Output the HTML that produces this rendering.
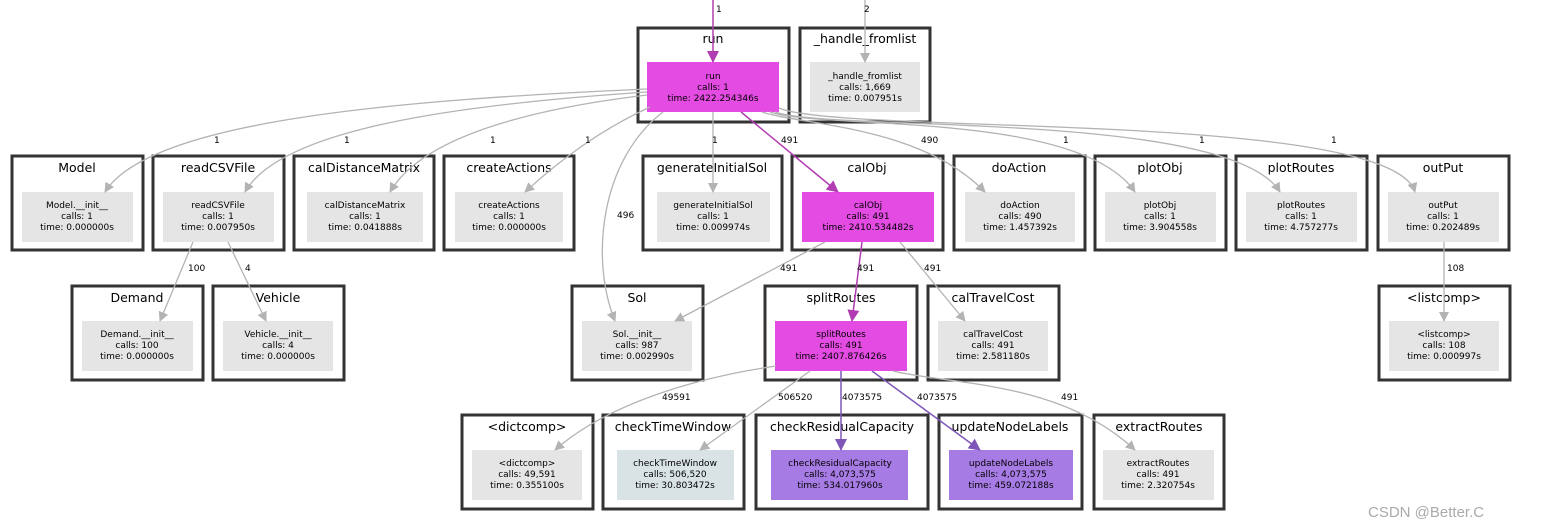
<!DOCTYPE html>
<html><head><meta charset="utf-8"><style>
body{margin:0;background:#fff}
svg{display:block}
.c{fill:#fff;stroke:#333;stroke-width:3}
.t{font-family:"DejaVu Sans","Liberation Sans",sans-serif;font-size:12.5px;fill:#000;text-anchor:middle}
.n{font-family:"DejaVu Sans","Liberation Sans",sans-serif;font-size:9px;fill:#000;text-anchor:middle}
.l{font-family:"DejaVu Sans","Liberation Sans",sans-serif;font-size:9px;fill:#000}
.g{fill:none;stroke:#b3b3b3;stroke-width:1.3}
.m{fill:none;stroke:#b23cb2;stroke-width:1.5}
.p{fill:none;stroke:#7f56b8;stroke-width:1.5}
</style></head><body>
<svg width="1541" height="527" viewBox="0 0 1541 527" xmlns="http://www.w3.org/2000/svg">
<defs>
<marker id="ag" markerWidth="10" markerHeight="10" refX="9" refY="5" orient="auto" markerUnits="userSpaceOnUse"><path d="M0,0 L10,5 L0,10z" fill="#b3b3b3"/></marker>
<marker id="am" markerWidth="12" markerHeight="12" refX="11" refY="6" orient="auto" markerUnits="userSpaceOnUse"><path d="M0,0 L12,6 L0,12z" fill="#b23cb2"/></marker>
<marker id="ap" markerWidth="12" markerHeight="12" refX="11" refY="6" orient="auto" markerUnits="userSpaceOnUse"><path d="M0,0 L12,6 L0,12z" fill="#7f56b8"/></marker>
</defs>

<!-- clusters -->
<g>
<rect class="c" x="638" y="28" width="151" height="94"/><text class="t" x="713" y="43">run</text>
<rect class="c" x="800" y="28" width="130" height="94"/><text class="t" x="865" y="43">_handle_fromlist</text>

<rect class="c" x="12" y="156" width="131" height="94"/><text class="t" x="77" y="172">Model</text>
<rect class="c" x="153" y="156" width="131" height="94"/><text class="t" x="218" y="172">readCSVFile</text>
<rect class="c" x="294" y="156" width="140" height="94"/><text class="t" x="364" y="172">calDistanceMatrix</text>
<rect class="c" x="444" y="156" width="130" height="94"/><text class="t" x="509" y="172">createActions</text>
<rect class="c" x="643" y="156" width="139" height="94"/><text class="t" x="712" y="172">generateInitialSol</text>
<rect class="c" x="792" y="156" width="151" height="94"/><text class="t" x="867" y="172">calObj</text>
<rect class="c" x="954" y="156" width="131" height="94"/><text class="t" x="1019" y="172">doAction</text>
<rect class="c" x="1095" y="156" width="131" height="94"/><text class="t" x="1160" y="172">plotObj</text>
<rect class="c" x="1236" y="156" width="131" height="94"/><text class="t" x="1301" y="172">plotRoutes</text>
<rect class="c" x="1378" y="156" width="131" height="94"/><text class="t" x="1443" y="172">outPut</text>

<rect class="c" x="72" y="286" width="131" height="94"/><text class="t" x="137" y="302">Demand</text>
<rect class="c" x="213" y="286" width="131" height="94"/><text class="t" x="278" y="302">Vehicle</text>
<rect class="c" x="572" y="286" width="131" height="94"/><text class="t" x="637" y="302">Sol</text>
<rect class="c" x="765" y="286" width="152" height="94"/><text class="t" x="841" y="302">splitRoutes</text>
<rect class="c" x="928" y="286" width="131" height="94"/><text class="t" x="993" y="302">calTravelCost</text>
<rect class="c" x="1379" y="286" width="131" height="94"/><text class="t" x="1444" y="302">&lt;listcomp&gt;</text>

<rect class="c" x="462" y="415" width="131" height="94"/><text class="t" x="527" y="431">&lt;dictcomp&gt;</text>
<rect class="c" x="603" y="415" width="141" height="94"/><text class="t" x="673" y="431">checkTimeWindow</text>
<rect class="c" x="756" y="415" width="172" height="94"/><text class="t" x="842" y="431">checkResidualCapacity</text>
<rect class="c" x="939" y="415" width="143" height="94"/><text class="t" x="1010" y="431">updateNodeLabels</text>
<rect class="c" x="1094" y="415" width="130" height="94"/><text class="t" x="1159" y="431">extractRoutes</text>
</g>

<!-- nodes -->
<g>
<rect x="647" y="62" width="132" height="50" fill="#e34be3"/><text class="n" x="713" y="79">run</text><text class="n" x="713" y="90">calls: 1</text><text class="n" x="713" y="101">time: 2422.254346s</text>
<rect x="810" y="62" width="110" height="50" fill="#e5e5e5"/><text class="n" x="865" y="79">_handle_fromlist</text><text class="n" x="865" y="90">calls: 1,669</text><text class="n" x="865" y="101">time: 0.007951s</text>

<rect x="22" y="192" width="111" height="50" fill="#e5e5e5"/><text class="n" x="77" y="208">Model.__init__</text><text class="n" x="77" y="219">calls: 1</text><text class="n" x="77" y="230">time: 0.000000s</text>
<rect x="163" y="192" width="111" height="50" fill="#e5e5e5"/><text class="n" x="218" y="208">readCSVFile</text><text class="n" x="218" y="219">calls: 1</text><text class="n" x="218" y="230">time: 0.007950s</text>
<rect x="307" y="192" width="116" height="50" fill="#e5e5e5"/><text class="n" x="365" y="208">calDistanceMatrix</text><text class="n" x="365" y="219">calls: 1</text><text class="n" x="365" y="230">time: 0.041888s</text>
<rect x="455" y="192" width="108" height="50" fill="#e5e5e5"/><text class="n" x="509" y="208">createActions</text><text class="n" x="509" y="219">calls: 1</text><text class="n" x="509" y="230">time: 0.000000s</text>
<rect x="657" y="192" width="113" height="50" fill="#e5e5e5"/><text class="n" x="713" y="208">generateInitialSol</text><text class="n" x="713" y="219">calls: 1</text><text class="n" x="713" y="230">time: 0.009974s</text>
<rect x="802" y="192" width="132" height="50" fill="#e34be3"/><text class="n" x="868" y="208">calObj</text><text class="n" x="868" y="219">calls: 491</text><text class="n" x="868" y="230">time: 2410.534482s</text>
<rect x="965" y="192" width="110" height="50" fill="#e5e5e5"/><text class="n" x="1020" y="208">doAction</text><text class="n" x="1020" y="219">calls: 490</text><text class="n" x="1020" y="230">time: 1.457392s</text>
<rect x="1105" y="192" width="111" height="50" fill="#e5e5e5"/><text class="n" x="1160" y="208">plotObj</text><text class="n" x="1160" y="219">calls: 1</text><text class="n" x="1160" y="230">time: 3.904558s</text>
<rect x="1246" y="192" width="111" height="50" fill="#e5e5e5"/><text class="n" x="1301" y="208">plotRoutes</text><text class="n" x="1301" y="219">calls: 1</text><text class="n" x="1301" y="230">time: 4.757277s</text>
<rect x="1388" y="192" width="111" height="50" fill="#e5e5e5"/><text class="n" x="1443" y="208">outPut</text><text class="n" x="1443" y="219">calls: 1</text><text class="n" x="1443" y="230">time: 0.202489s</text>

<rect x="82" y="321" width="111" height="50" fill="#e5e5e5"/><text class="n" x="137" y="337">Demand.__init__</text><text class="n" x="137" y="348">calls: 100</text><text class="n" x="137" y="359">time: 0.000000s</text>
<rect x="223" y="321" width="110" height="50" fill="#e5e5e5"/><text class="n" x="278" y="337">Vehicle.__init__</text><text class="n" x="278" y="348">calls: 4</text><text class="n" x="278" y="359">time: 0.000000s</text>
<rect x="582" y="321" width="110" height="50" fill="#e5e5e5"/><text class="n" x="637" y="337">Sol.__init__</text><text class="n" x="637" y="348">calls: 987</text><text class="n" x="637" y="359">time: 0.002990s</text>
<rect x="775" y="321" width="132" height="50" fill="#e34be3"/><text class="n" x="841" y="337">splitRoutes</text><text class="n" x="841" y="348">calls: 491</text><text class="n" x="841" y="359">time: 2407.876426s</text>
<rect x="938" y="321" width="110" height="50" fill="#e5e5e5"/><text class="n" x="993" y="337">calTravelCost</text><text class="n" x="993" y="348">calls: 491</text><text class="n" x="993" y="359">time: 2.581180s</text>
<rect x="1389" y="321" width="110" height="50" fill="#e5e5e5"/><text class="n" x="1444" y="337">&lt;listcomp&gt;</text><text class="n" x="1444" y="348">calls: 108</text><text class="n" x="1444" y="359">time: 0.000997s</text>

<rect x="472" y="450" width="110" height="50" fill="#e5e5e5"/><text class="n" x="527" y="466">&lt;dictcomp&gt;</text><text class="n" x="527" y="477">calls: 49,591</text><text class="n" x="527" y="488">time: 0.355100s</text>
<rect x="617" y="450" width="117" height="50" fill="#d9e3e6"/><text class="n" x="675" y="466">checkTimeWindow</text><text class="n" x="675" y="477">calls: 506,520</text><text class="n" x="675" y="488">time: 30.803472s</text>
<rect x="771" y="450" width="137" height="50" fill="#a77be4"/><text class="n" x="840" y="466">checkResidualCapacity</text><text class="n" x="840" y="477">calls: 4,073,575</text><text class="n" x="840" y="488">time: 534.017960s</text>
<rect x="949" y="450" width="124" height="50" fill="#a77be4"/><text class="n" x="1011" y="466">updateNodeLabels</text><text class="n" x="1011" y="477">calls: 4,073,575</text><text class="n" x="1011" y="488">time: 459.072188s</text>
<rect x="1103" y="450" width="111" height="50" fill="#e5e5e5"/><text class="n" x="1158" y="466">extractRoutes</text><text class="n" x="1158" y="477">calls: 491</text><text class="n" x="1158" y="488">time: 2.320754s</text>
</g>

<!-- edges -->
<g>
<path class="m" d="M713,0 L713,62" marker-end="url(#am)"/><text class="l" x="716" y="12">1</text>
<path class="g" d="M865,0 L865,62" marker-end="url(#ag)"/><text class="l" x="864" y="12">2</text>

<path class="g" d="M647,89 C400,100 150,120 105,192" marker-end="url(#ag)"/><text class="l" x="214" y="143">1</text>
<path class="g" d="M647,92 C450,105 280,130 245,192" marker-end="url(#ag)"/><text class="l" x="344" y="143">1</text>
<path class="g" d="M647,95 C520,110 420,140 390,192" marker-end="url(#ag)"/><text class="l" x="490" y="143">1</text>
<path class="g" d="M650,107 C600,130 560,160 525,192" marker-end="url(#ag)"/><text class="l" x="585" y="143">1</text>
<path class="g" d="M663,112 C600,160 590,260 615,321" marker-end="url(#ag)"/><text class="l" x="617" y="218">496</text>
<path class="g" d="M713,112 L713,192" marker-end="url(#ag)"/><text class="l" x="712" y="143">1</text>
<path class="m" d="M741,112 L838,192" marker-end="url(#am)"/><text class="l" x="781" y="143">491</text>
<path class="g" d="M762,112 C800,125 920,125 985,192" marker-end="url(#ag)"/><text class="l" x="921" y="143">490</text>
<path class="g" d="M770,112 C820,130 1080,110 1135,192" marker-end="url(#ag)"/><text class="l" x="1063" y="143">1</text>
<path class="g" d="M775,112 C830,132 1230,110 1280,192" marker-end="url(#ag)"/><text class="l" x="1199" y="143">1</text>
<path class="g" d="M779,108 C840,135 1390,110 1415,192" marker-end="url(#ag)"/><text class="l" x="1331" y="143">1</text>

<path class="g" d="M193,242 L160,321" marker-end="url(#ag)"/><text class="l" x="188" y="271">100</text>
<path class="g" d="M228,242 L266,321" marker-end="url(#ag)"/><text class="l" x="245" y="271">4</text>
<path class="g" d="M825,242 L675,321" marker-end="url(#ag)"/><text class="l" x="780" y="271">491</text>
<path class="m" d="M862,242 L852,321" marker-end="url(#am)"/><text class="l" x="857" y="271">491</text>
<path class="g" d="M900,242 L965,321" marker-end="url(#ag)"/><text class="l" x="924" y="271">491</text>
<path class="g" d="M1444,242 L1444,321" marker-end="url(#ag)"/><text class="l" x="1447" y="271">108</text>

<path class="g" d="M776,366 C680,380 600,410 555,450" marker-end="url(#ag)"/><text class="l" x="662" y="400">49591</text>
<path class="g" d="M810,371 L700,450" marker-end="url(#ag)"/><text class="l" x="778" y="400">506520</text>
<path class="p" d="M841,371 L841,450" marker-end="url(#ap)"/><text class="l" x="842" y="400">4073575</text>
<path class="p" d="M872,371 L980,450" marker-end="url(#ap)"/><text class="l" x="917" y="400">4073575</text>
<path class="g" d="M893,371 C950,385 1060,380 1135,450" marker-end="url(#ag)"/><text class="l" x="1061" y="400">491</text>
</g>

<text x="1368" y="517" style="font-family:'Liberation Sans','Noto Sans CJK SC',sans-serif;font-size:15px;fill:#aaa">CSDN @Better.C</text>
</svg>
</body></html>
